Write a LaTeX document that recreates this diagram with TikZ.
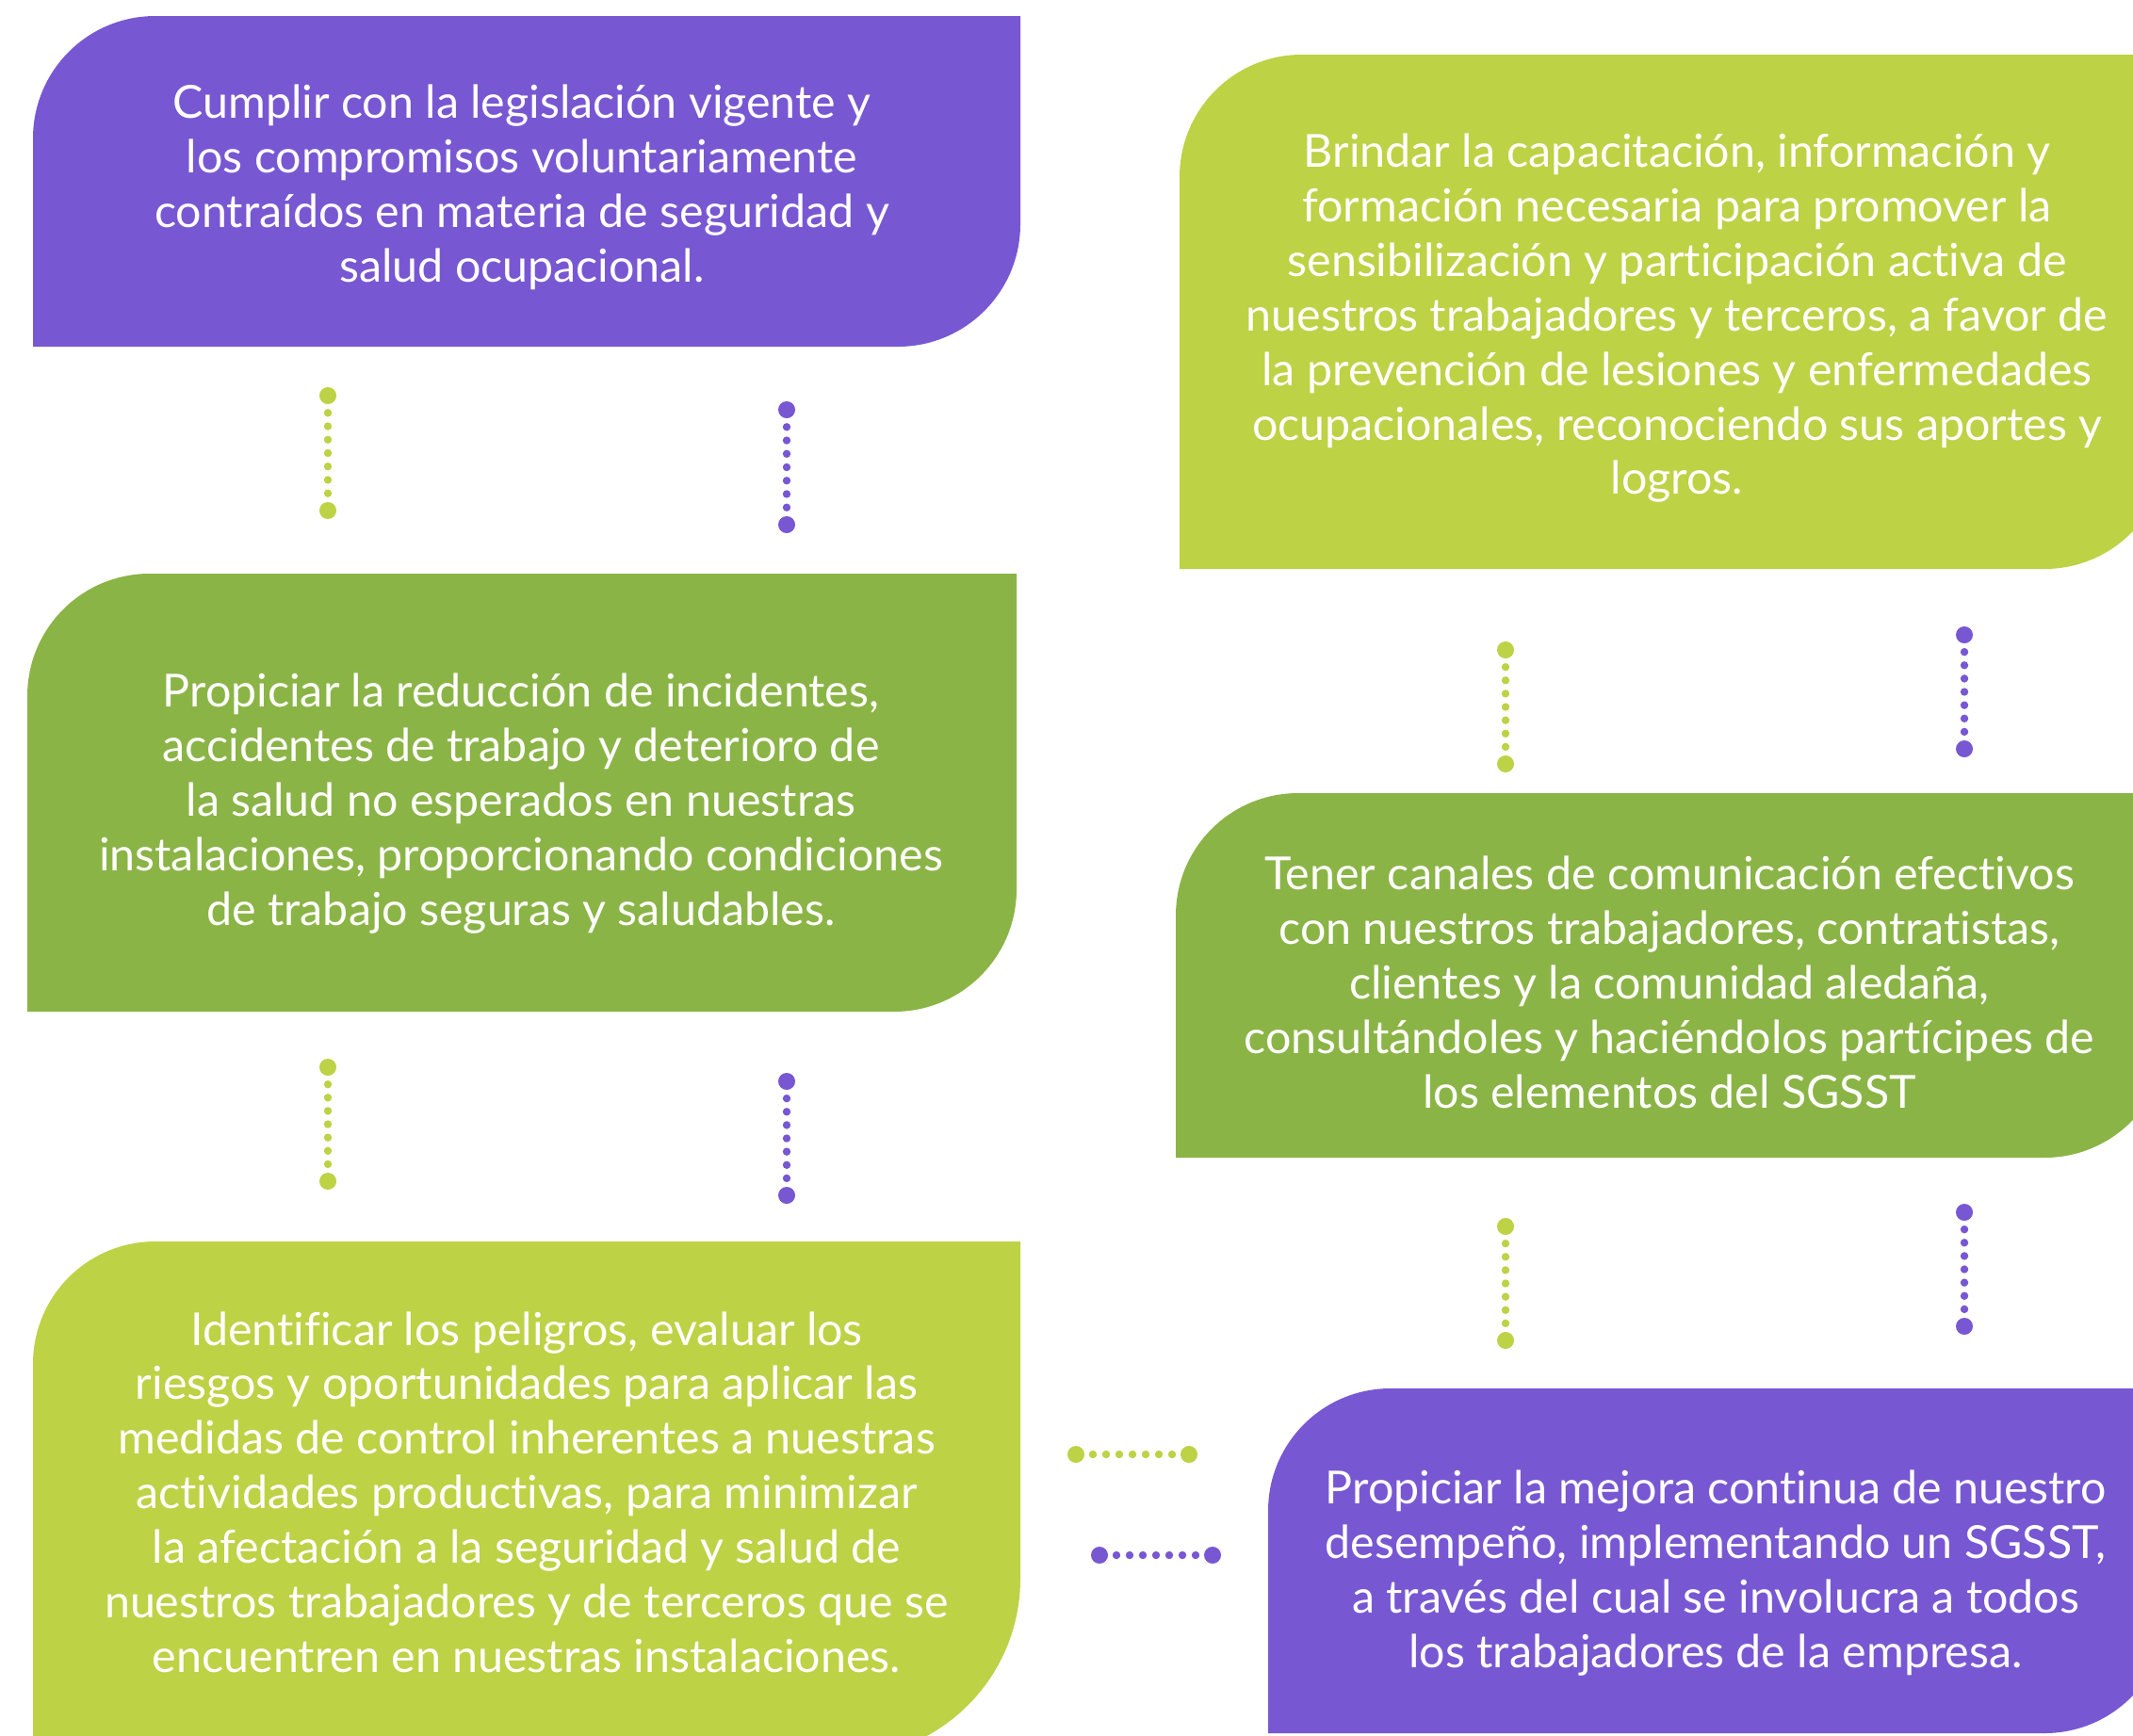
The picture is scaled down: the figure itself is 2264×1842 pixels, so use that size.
\documentclass[tikz,border=0pt]{standalone}
\usepackage{fontspec}
\setmainfont{Lato}[Ligatures=NoCommon]
\usetikzlibrary{backgrounds,calc}
\definecolor{morado}{HTML}{7857D3}
\definecolor{lima}{HTML}{BDD245}
\definecolor{olivo}{HTML}{8BB446}
% fondo de caja: x1,y1,x2,y2,color,radio inferior (esquinas sup. izq. e inf. der. redondeadas)
\newcommand\blob[6]{%
  \fill[#5] (#1,#4) -- (#1,{#2+130})
    .. controls (#1,{#2+58}) and ({#1+58},#2) .. ({#1+130},#2)
    -- (#3,#2) -- (#3,{#4-#6})
    .. controls (#3,{#4-0.4477*#6}) and ({#3-0.4477*#6},#4) .. ({#3-#6},#4)
    -- cycle;}
\begin{document}
\begin{tikzpicture}[x=0.01cm,y=-0.01cm,
  box/.style={text=white,align=center,inner sep=0pt,
    font=\fontsize{13.75}{16.45}\selectfont},
  smalldot/.style={radius=0.042cm},
  bigdot/.style={radius=0.09cm}]
\useasboundingbox (0,0) rectangle (2264,1842);
\clip (0,0) rectangle (2264,1842);

% columna izquierda
\blob{35}{17}{1083}{368}{morado}{130}
\blob{29}{609}{1079}{1074}{olivo}{130}
\blob{35}{1318}{1083}{1866}{lima}{190}
% columna derecha
\blob{1252}{58}{2300}{604}{lima}{130}
\blob{1248}{842}{2300}{1229}{olivo}{130}
\blob{1346}{1474}{2300}{1840}{morado}{130}

\node[box] (cumplir) at (554,199)
  {Cumplir con la legislación vigente y\\ los compromisos voluntariamente\\
   contraídos en materia de seguridad y\\ salud ocupacional.};
\node[box] (reducir) at (553,853)
  {Propiciar la reducción de incidentes,\\ accidentes de trabajo y deterioro de\\
   la salud no esperados en nuestras\\ instalaciones, proporcionando condiciones\\
   de trabajo seguras y saludables.};
\node[box] (peligros) at (559,1584)
  {Identificar los peligros, evaluar los\\ riesgos y oportunidades para aplicar las\\
   medidas de control inherentes a nuestras\\ actividades productivas, para minimizar\\
   la afectación a la seguridad y salud de\\ nuestros trabajadores y de terceros que se\\
   encuentren en nuestras instalaciones.};
\node[box] (brindar) at (1780,338)
  {Brindar la capacitación, información y\\ formación necesaria para promover la\\
   sensibilización y participación activa de\\ nuestros trabajadores y terceros, a favor de\\
   la prevención de lesiones y enfermedades\\ ocupacionales, reconociendo sus aportes y\\
   logros.};
\node[box] (canales) at (1772,1043)
  {Tener canales de comunicación efectivos\\ con nuestros trabajadores, contratistas,\\
   clientes y la comunidad aledaña,\\ consultándoles y haciéndolos partícipes de\\
   los elementos del SGSST};
\node[box] (mejora) at (1821,1670)
  {Propiciar la mejora continua de nuestro\\ desempeño, implementando un SGSST,\\
   a través del cual se involucra a todos\\ los trabajadores de la empresa.};

% conectores punteados
\coordinate (g1a) at (348,420);   \coordinate (g1b) at (348,542);
\coordinate (p1a) at (835,435);   \coordinate (p1b) at (835,557);
\coordinate (g2a) at (348,1133);  \coordinate (g2b) at (348,1254);
\coordinate (p2a) at (835,1148);  \coordinate (p2b) at (835,1269);
\coordinate (g3a) at (1598,690);  \coordinate (g3b) at (1598,811);
\coordinate (p3a) at (2085,674);  \coordinate (p3b) at (2085,795);
\coordinate (g4a) at (1598,1302); \coordinate (g4b) at (1598,1423);
\coordinate (p4a) at (2085,1287); \coordinate (p4b) at (2085,1408);
\coordinate (g5a) at (1142,1544); \coordinate (g5b) at (1262,1544);
\coordinate (p5a) at (1167,1651); \coordinate (p5b) at (1287,1651);
\foreach \a/\b/\c in {g1a/g1b/lima,p1a/p1b/morado,g2a/g2b/lima,p2a/p2b/morado,
    g3a/g3b/lima,p3a/p3b/morado,g4a/g4b/lima,p4a/p4b/morado,
    g5a/g5b/lima,p5a/p5b/morado}{
  \fill[\c] (\a) circle[bigdot] (\b) circle[bigdot];
  \foreach \k in {0,...,6}
    \fill[\c] ($(\a)!{0.15+0.1167*\k}!(\b)$) circle[smalldot];
}
\end{tikzpicture}
\end{document}
